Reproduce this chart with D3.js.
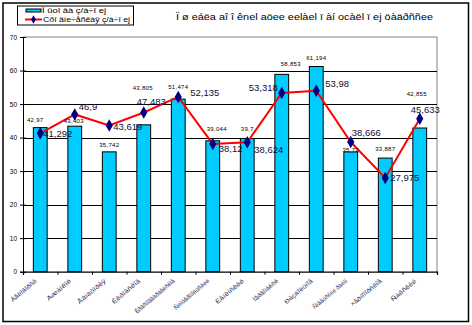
<!DOCTYPE html>
<html><head><meta charset="utf-8">
<script src="https://cdn.jsdelivr.net/npm/d3@7"></script>
<style>body{margin:0;background:#fff}svg{display:block}text{font-family:Arial,"Liberation Sans",sans-serif}</style>
</head><body>
<svg id="c" width="472" height="325"></svg>
<script>
const categories = ["Áåëîãîðñê","Äæàíêîé","Åâïàòîðèÿ","Êèðîâñêîå","Êðàñíîãâàðäåéñêîå","Ñèìôåðîïîëüñêèé","Ëåíèíñêèé","Ïåðâîìàéñê","Ðàçäîëüíîå","Ñîâåòñêèé ðàéîí","×åðíîìîðñêîå","Ñàêñêèé"];
const barValues = [42.97, 43.403, 35.742, 43.805, 51.474, 39.044, 39.7, 58.853, 61.194, 35.72, 33.887, 42.855];
const barLabels = ["42,97","43,403","35,742","43,805","51,474","39,044","39,7","58,853","61,194","35,72","33,887","42,855"];
const lineValues = [41.292, 46.9, 43.619, 47.483, 52.135, 38.12, 38.624, 53.318, 53.98, 38.666, 27.975, 45.633];
const lineLabels = ["41,292","46,9","43,619","47,483","52,135","38,12","38,624","53,318","53,98","38,666","27,975","45,633"];
const yTicks = [0,10,20,30,40,50,60,70];
const seriesNames = ["Ï ûoî âà ç/à÷î ej","Cðî äíe÷åñêàÿ ç/à÷î ej"];
const titleText = "Ï ø eáëa aî î ênel aöee eelàel ï àí ocàël ï ej öàäðññee";

// label placement (style, not data)
const lineLabelOff = [[3,0],[4,-8],[4,1],[-7,-11],[12,-4],[6,5],[7,7],[-33,-5],[9,-7],[1,-10],[5,0],[-9,-9]];
const barLabelOff = [[-5,-8],[-1,-5],[0,-7],[-1,-37],[0,-12],[4,-12],[0,-10],[9,-10],[0,-9],[0,-2],[0,-9],[-3,-34]];
const xLabelLen = [32,30,35,35,50,44,35,31,35,43,39,31];

const svg = d3.select("#c");
const L = 23, R = 437, T = 37, B = 271.7;
const x = d3.scaleBand().domain(d3.range(categories.length)).range([L,R]).padding(0);
const xi = d3.scaleLinear().domain([0,categories.length]).range([L,R]);
const y = d3.scaleLinear().domain([0,70]).range([B,T]);

// outer border
svg.append("rect").attr("x",3).attr("y",3).attr("width",465.5).attr("height",318.5)
  .attr("fill","none").attr("stroke","#000").attr("stroke-width",1.5);

// plot area border (grey)
svg.append("path").attr("d",`M${L},${T}H${R}V${B}`).attr("fill","none").attr("stroke","#808080").attr("stroke-width",1);

// gridlines
svg.append("g").selectAll("line").data(yTicks.filter(d=>d>0 && d<70)).join("line")
  .attr("x1",L).attr("x2",R).attr("y1",d=>Math.round(y(d))+0.5).attr("y2",d=>Math.round(y(d))+0.5)
  .attr("stroke","#000").attr("stroke-width",1);

// bars
const bw = x.bandwidth()*0.4;
svg.append("g").selectAll("rect").data(barValues).join("rect")
  .attr("x",(d,i)=>x(i)+x.bandwidth()/2-bw/2).attr("y",d=>y(d))
  .attr("width",bw).attr("height",d=>B-y(d))
  .attr("fill","#00CCFF").attr("stroke","#000").attr("stroke-width",1);

// y axis
const ya = svg.append("g").attr("transform",`translate(${L},0)`)
  .call(d3.axisLeft(y).tickValues(yTicks).tickSize(3).tickFormat(d3.format("d")));
ya.select(".domain").attr("stroke","#000");
ya.selectAll(".tick line").attr("x2",3).attr("x1",-3).attr("stroke","#000");
ya.selectAll(".tick text").attr("x",-6).attr("font-size",6.5).attr("fill","#000").attr("font-family","Arial");

// x axis
const xa = svg.append("g").attr("transform",`translate(0,${B})`)
  .call(d3.axisBottom(xi).tickValues(d3.range(categories.length+1)).tickSize(3).tickFormat(""));
xa.select(".domain").attr("stroke","#000").attr("stroke-width",1.3);
xa.selectAll(".tick line").attr("stroke","#000");

// x labels rotated
svg.append("g").selectAll("text").data(categories).join("text")
  .attr("transform",(d,i)=>`translate(${x(i)+x.bandwidth()/2-3},${B+10}) rotate(-40)`)
  .attr("text-anchor","end").attr("font-size",6).attr("fill","#2a2a55")
  .attr("textLength",(d,i)=>xLabelLen[i]).attr("lengthAdjust","spacingAndGlyphs")
  .text(d=>d);

// line
const cx = i => x(i)+x.bandwidth()/2;
svg.append("path").datum(lineValues)
  .attr("d",d3.line().x((d,i)=>cx(i)).y(d=>y(d)))
  .attr("fill","none").attr("stroke","#FF0000").attr("stroke-width",2);
svg.append("g").selectAll("path").data(lineValues).join("path")
  .attr("transform",(d,i)=>`translate(${cx(i)},${y(d)})`)
  .attr("d",d3.symbol().type(d3.symbolDiamond).size(45))
  .attr("fill","#000080");

// bar labels
svg.append("g").selectAll("text").data(barValues).join("text")
  .attr("x",(d,i)=>cx(i)+barLabelOff[i][0]).attr("y",(d,i)=>y(d)+barLabelOff[i][1]+2)
  .attr("text-anchor","middle").attr("font-size",6).attr("fill","#000").attr("letter-spacing",0.3)
  .text((d,i)=>barLabels[i]);

// line labels
svg.append("g").selectAll("text").data(lineValues).join("text")
  .attr("x",(d,i)=>cx(i)+lineLabelOff[i][0]).attr("y",(d,i)=>y(d)+lineLabelOff[i][1]+3.5)
  .attr("font-size",9.5).attr("fill","#10103a")
  .text((d,i)=>lineLabels[i]);

// title
svg.append("text").attr("x",176).attr("y",19.5).attr("font-size",8.5)
  .attr("fill","#000").attr("textLength",257).attr("lengthAdjust","spacingAndGlyphs").text(titleText);

// legend
const lg = svg.append("g");
lg.append("rect").attr("x",17.5).attr("y",6).attr("width",116).attr("height",19)
  .attr("fill","#fff").attr("stroke","#000").attr("stroke-width",1);
lg.append("rect").attr("x",26).attr("y",9).attr("width",15).attr("height",3)
  .attr("fill","#00CCFF").attr("stroke","#000").attr("stroke-width",1);
lg.append("text").attr("x",42).attr("y",12.5).attr("font-size",6.5).attr("fill","#000")
  .attr("textLength",64).attr("lengthAdjust","spacingAndGlyphs").text(seriesNames[0]);
lg.append("line").attr("x1",25).attr("x2",42).attr("y1",19.5).attr("y2",19.5).attr("stroke","#FF0000").attr("stroke-width",2);
lg.append("path").attr("transform","translate(33.5,19.5)").attr("d",d3.symbol().type(d3.symbolDiamond).size(20)).attr("fill","#000080");
lg.append("text").attr("x",43).attr("y",22).attr("font-size",6.5).attr("fill","#000")
  .attr("textLength",87).attr("lengthAdjust","spacingAndGlyphs").text(seriesNames[1]);
</script>
</body></html>
